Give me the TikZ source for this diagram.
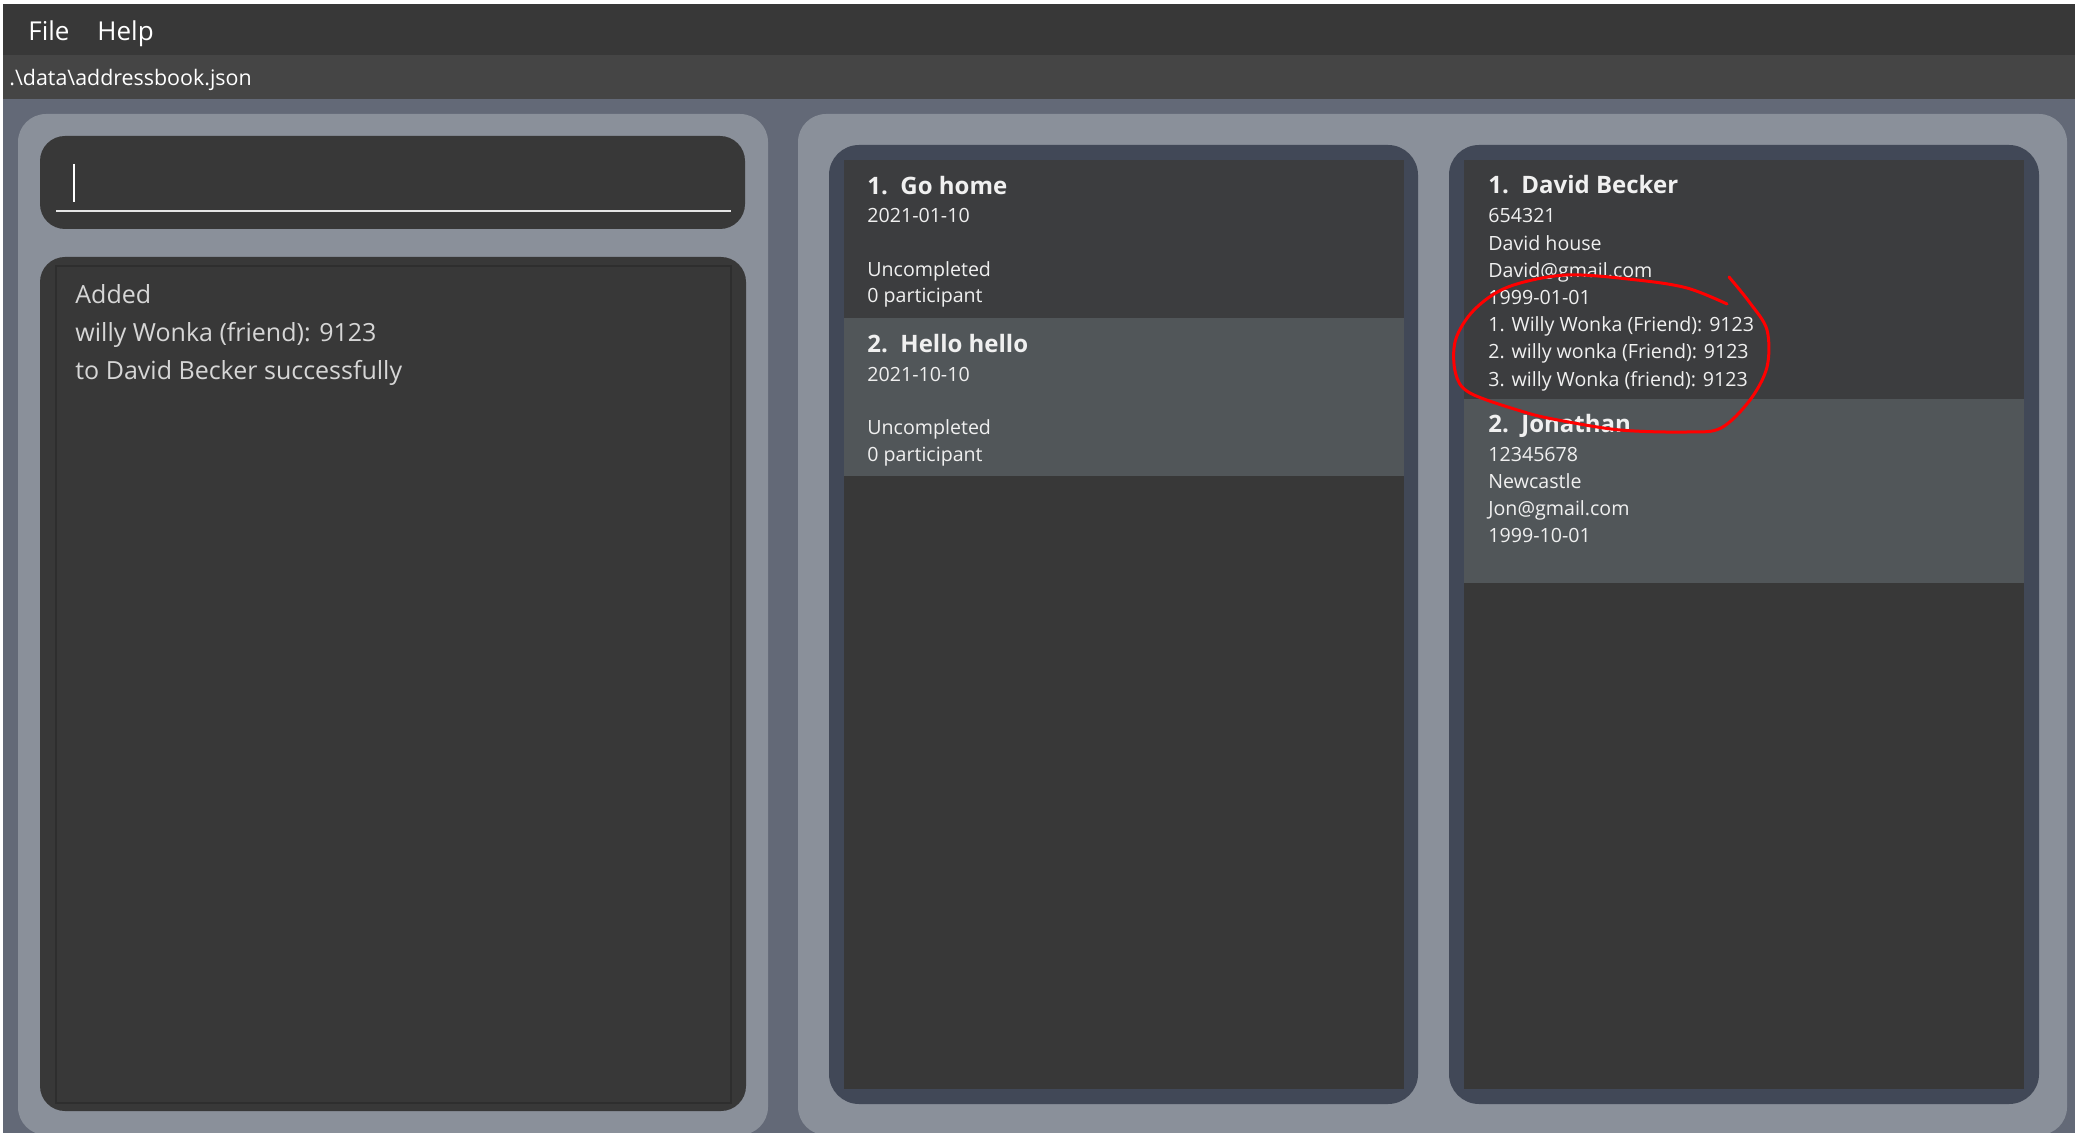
\documentclass[tikz,border=0pt]{standalone}
\usepackage{fontspec}
\setmainfont{Open Sans}

\definecolor{menubar}{HTML}{383838}
\definecolor{pathbar}{HTML}{454545}
\definecolor{backdrop}{HTML}{636977}
\definecolor{panel}{HTML}{8A909A}
\definecolor{listrim}{HTML}{414857}
\definecolor{darkbox}{HTML}{383838}
\definecolor{cardone}{HTML}{3C3D3F}
\definecolor{cardtwo}{HTML}{515659}
\definecolor{cardwhite}{HTML}{F0F0F0}
\definecolor{msgtext}{HTML}{D6D6D6}

\begin{document}
\begin{tikzpicture}[x=0.5pt, y=-0.5pt,
    cardtxt/.style={anchor=base west, inner sep=0pt, text=cardwhite, font=\fontsize{9.8}{12}\selectfont},
    cardtitle/.style={anchor=base west, inner sep=0pt, text=cardwhite, font=\fontsize{12}{14}\selectfont\bfseries}]
    \useasboundingbox (0,0) rectangle (2075,1133);
    \clip (0,0) rectangle (2075,1133);

    % window frame: menu, file path and backdrop
    \fill[white] (0,0) rectangle (2075,1133);
    \fill[menubar] (3,4) rectangle (2075,55);
    \fill[pathbar] (3,55) rectangle (2075,99);
    \fill[backdrop] (3,99) rectangle (2075,1133);
    \node[anchor=base west, inner sep=0pt, text=white, font=\fontsize{13}{15}\selectfont] (file) at (28,41) {File};
    \node[anchor=base west, inner sep=0pt, text=white, font=\fontsize{13}{15}\selectfont] (help) at (97,41) {Help};
    \node[anchor=base west, inner sep=0pt, text=white, font=\fontsize{10.7}{13}\selectfont] (path) at (9,86) {.\textbackslash data\textbackslash addressbook.json};

    % left panel: command box and result display
    \fill[panel, rounded corners=14pt] (18,114) rectangle (768,1135);
    \fill[darkbox, rounded corners=12.5pt] (40,136) rectangle (745,229);
    \draw[white, line width=0.8pt] (74,164) -- (74,202);
    \draw[white!90!black, line width=1pt] (56,211) -- (731,211);
    \fill[darkbox, rounded corners=12.5pt] (40,257) rectangle (746,1111);
    \draw[black!82, line width=0.7pt] (56,266) rectangle (731,1103);
    \foreach \t [count=\i] in {Added,willy Wonka (friend): 9123,to David Becker successfully} {
        \node[anchor=base west, inner sep=0pt, text=msgtext, font=\fontsize{12.5}{15}\selectfont] (msg\i) at (75,266+38*\i) {\t};
    }

    % right panel: task list and person list
    \fill[panel, rounded corners=14pt] (798,114) rectangle (2067,1135);
    \fill[listrim, rounded corners=15pt] (829,145) rectangle (1418,1104);
    \fill[darkbox] (844,160) rectangle (1404,1089);
    \fill[cardone] (844,160) rectangle (1404,318);
    \fill[cardtwo] (844,318) rectangle (1404,476);
    \fill[listrim, rounded corners=15pt] (1449,145) rectangle (2039,1104);
    \fill[darkbox] (1464,160) rectangle (2024,1089);
    \fill[cardone] (1464,160) rectangle (2024,399);
    \fill[cardtwo] (1464,399) rectangle (2024,583);

    % task cards
    \node[cardtitle] (taskone) at (867,195) {1.\ \ Go home};
    \node[cardtxt] (dateone) at (867,223) {2021-01-10};
    \node[cardtxt] (stateone) at (867,277) {Uncompleted};
    \node[cardtxt] (partone) at (867,303) {0 participant};
    \node[cardtitle] (tasktwo) at (867,353) {2.\ \ Hello hello};
    \node[cardtxt] (datetwo) at (867,382) {2021-10-10};
    \node[cardtxt] (statetwo) at (867,435) {Uncompleted};
    \node[cardtxt] (parttwo) at (867,462) {0 participant};

    % person cards
    \node[cardtitle] (personone) at (1488,194) {1.\ \ David Becker};
    \foreach \t [count=\i] in {654321,David house,David@gmail.com,1999-01-01,1. Willy Wonka (Friend): 9123,2. willy wonka (Friend): 9123,3. willy Wonka (friend): 9123} {
        \node[cardtxt] (david\i) at (1488,195.8+27.2*\i) {\t};
    }
    \node[cardtitle] (persontwo) at (1488,433) {2.\ \ Jonathan};
    \foreach \t [count=\i] in {12345678,Newcastle,Jon@gmail.com,1999-10-01} {
        \node[cardtxt] (jon\i) at (1488,433.8+27.2*\i) {\t};
    }

    % red hand-drawn ring round the tags
    \draw[red, line width=1.5pt, line cap=round, line join=round] plot[smooth, tension=0.55] coordinates {
        (1729,277) (1750,303) (1767,330) (1767,367) (1750,400) (1721,428) (1687,432)
        (1620,430) (1558,420) (1524,412) (1470,393) (1455.5,373) (1455.5,340) (1474,310)
        (1508,287) (1566,275) (1637,280) (1687,288) (1727,304)};
\end{tikzpicture}
\end{document}
